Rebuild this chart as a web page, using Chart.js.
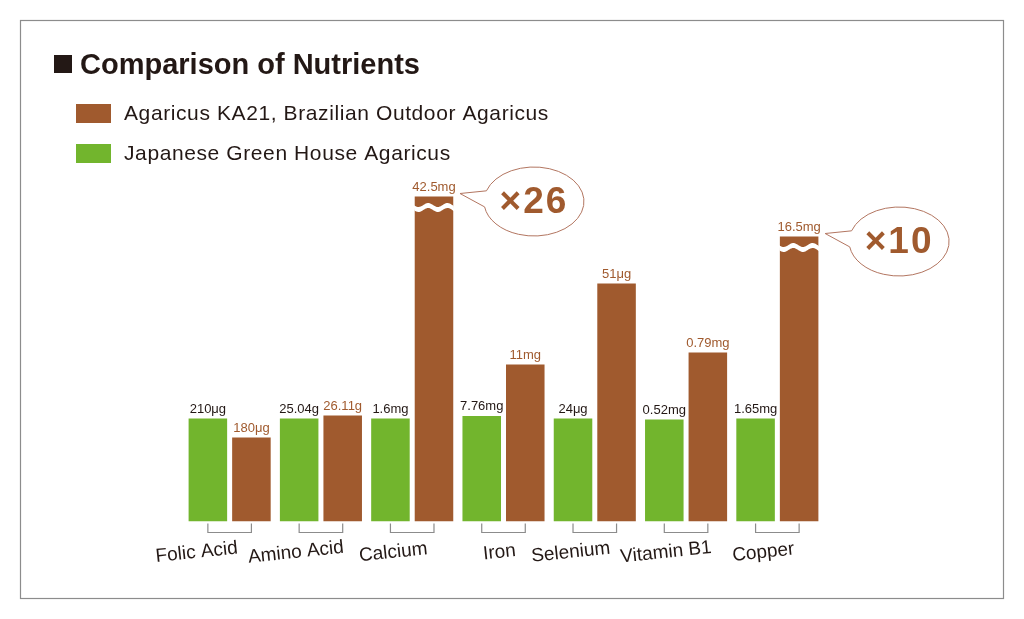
<!DOCTYPE html>
<html>
<head>
<meta charset="utf-8">
<script src="https://cdn.jsdelivr.net/npm/chart.js@4"></script>
<style>
  html, body { margin: 0; padding: 0; background: #fff; }
  #wrap { width: 1024px; height: 619px; }
</style>
</head>
<body>
<div id="wrap"><canvas id="chart" width="1024" height="619"></canvas></div>
<script>
// 栄養素の比較（棒の高さは見た目どおり、実数値はラベルで表示）
const categories = ['Folic Acid', 'Amino Acid', 'Calcium', 'Iron', 'Selenium', 'Vitamin B1', 'Copper'];
const greenHeights = [103, 103, 103, 105.5, 103, 102, 103];
const brownHeights = [84, 106, 325, 157, 238, 169, 285];
const greenLabels = ['210μg', '25.04g', '1.6mg', '7.76mg', '24μg', '0.52mg', '1.65mg'];
const brownLabels = ['180μg', '26.11g', '42.5mg', '11mg', '51μg', '0.79mg', '16.5mg'];
const callouts = ['', '', '×26', '', '', '', '×10'];
const brokenBars = [false, false, true, false, false, false, true];
const seriesNames = ['Agaricus KA21, Brazilian Outdoor Agaricus', 'Japanese Green House Agaricus'];

const BROWN = '#a05a2e';
const GREEN = '#72b52d';
const DARK = '#231815';
const FONT = '"Liberation Sans", Arial, sans-serif';

// 項目名の横ずれ（レイアウト用）
const labelShift = [-33, -25, -19, -4, -24, -20, -14];

// 装飾を描くプラグイン
const decoPlugin = {
  id: 'deco',
  afterDatasetsDraw(chart) {
    const ctx = chart.ctx;
    const gMeta = chart.getDatasetMeta(0);
    const bMeta = chart.getDatasetMeta(1);
    const base = chart.scales.y.getPixelForValue(0);
    ctx.save();

    // 枠
    ctx.strokeStyle = '#8c8c8c';
    ctx.lineWidth = 1.2;
    ctx.strokeRect(20.5, 20.5, 983, 578);

    // タイトル
    ctx.fillStyle = DARK;
    ctx.fillRect(54, 55, 18, 18);
    ctx.font = 'bold 29px ' + FONT;
    ctx.textBaseline = 'alphabetic';
    ctx.textAlign = 'left';
    ctx.fillText('Comparison of Nutrients', 80, 74);

    // 凡例（茶色→緑の順）
    const legendColors = [BROWN, GREEN];
    ctx.font = '21px ' + FONT;
    ctx.letterSpacing = '0.6px';
    ctx.textBaseline = 'middle';
    legendColors.forEach(function (c, i) {
      const y = 104 + i * 40;
      ctx.fillStyle = c;
      ctx.fillRect(76, y, 35, 19);
      ctx.fillStyle = DARK;
      ctx.fillText(seriesNames[i], 124, y + 10);
    });
    ctx.letterSpacing = '0px';

    // 数値ラベル
    ctx.font = '13px ' + FONT;
    ctx.textAlign = 'center';
    ctx.textBaseline = 'alphabetic';
    gMeta.data.forEach(function (bar, i) {
      ctx.fillStyle = DARK;
      ctx.fillText(greenLabels[i], bar.x, bar.y - 6);
    });
    bMeta.data.forEach(function (bar, i) {
      ctx.fillStyle = BROWN;
      ctx.fillText(brownLabels[i], bar.x, bar.y - 6);
    });

    // 省略の波線
    bMeta.data.forEach(function (bar, i) {
      if (!brokenBars[i]) return;
      const x0 = bar.x - bar.width / 2 - 1;
      const x1 = bar.x + bar.width / 2 + 1;
      const yc = bar.y + 11;
      ctx.beginPath();
      for (let x = x0; x <= x1; x += 1) {
        const y = yc - 2.5 + 2 * Math.sin((x - x0) / bar.width * Math.PI * 4);
        if (x === x0) ctx.moveTo(x, y); else ctx.lineTo(x, y);
      }
      for (let x = x1; x >= x0; x -= 1) {
        const y = yc + 2.5 + 2 * Math.sin((x - x0) / bar.width * Math.PI * 4);
        ctx.lineTo(x, y);
      }
      ctx.closePath();
      ctx.fillStyle = '#fff';
      ctx.fill();
    });

    // 吹き出し
    bMeta.data.forEach(function (bar, i) {
      if (!callouts[i]) return;
      const cx = bar.x + 100;
      const cy = bar.y + 5;
      const rx = 50, ry = 34.5;
      const tipX = bar.x + 26, tipY = bar.y - 3;
      ctx.beginPath();
      ctx.ellipse(cx, cy, rx, ry, 0, Math.PI * 1.1, Math.PI * 0.95, false);
      ctx.lineTo(tipX, tipY);
      ctx.closePath();
      ctx.fillStyle = '#fff';
      ctx.fill();
      ctx.strokeStyle = '#b27560';
      ctx.lineWidth = 1;
      ctx.stroke();
      ctx.fillStyle = BROWN;
      ctx.font = 'bold 37px ' + FONT;
      ctx.letterSpacing = '2px';
      ctx.textBaseline = 'middle';
      ctx.fillText(callouts[i], cx, cy + 1);
      ctx.letterSpacing = '0px';
      ctx.textBaseline = 'alphabetic';
    });

    // 括弧と項目名
    ctx.strokeStyle = '#8c8c8c';
    ctx.lineWidth = 1.2;
    gMeta.data.forEach(function (bar, i) {
      const b = bMeta.data[i];
      ctx.beginPath();
      ctx.moveTo(bar.x, base + 2);
      ctx.lineTo(bar.x, base + 11);
      ctx.lineTo(b.x, base + 11);
      ctx.lineTo(b.x, base + 2);
      ctx.stroke();

      const mid = (bar.x + b.x) / 2;
      ctx.save();
      ctx.translate(mid + labelShift[i], base + 31);
      ctx.rotate(-6 * Math.PI / 180);
      ctx.fillStyle = DARK;
      ctx.font = '19px ' + FONT;
      ctx.textAlign = 'center';
      ctx.textBaseline = 'middle';
      ctx.fillText(categories[i], 0, 0);
      ctx.restore();
    });

    ctx.restore();
  }
};

new Chart(document.getElementById('chart'), {
  type: 'bar',
  data: {
    labels: categories,
    datasets: [
      { label: seriesNames[1], data: greenHeights, backgroundColor: GREEN },
      { label: seriesNames[0], data: brownHeights, backgroundColor: BROWN }
    ]
  },
  options: {
    responsive: false,
    animation: false,
    events: [],
    layout: { padding: { left: 184, right: 201, top: 121.5, bottom: 97.5 } },
    datasets: { bar: { categoryPercentage: 0.954, barPercentage: 0.885 } },
    scales: {
      x: { display: false },
      y: { display: false, min: 0, max: 400 }
    },
    plugins: { legend: { display: false }, tooltip: { enabled: false } }
  },
  plugins: [decoPlugin]
});
</script>
</body>
</html>
